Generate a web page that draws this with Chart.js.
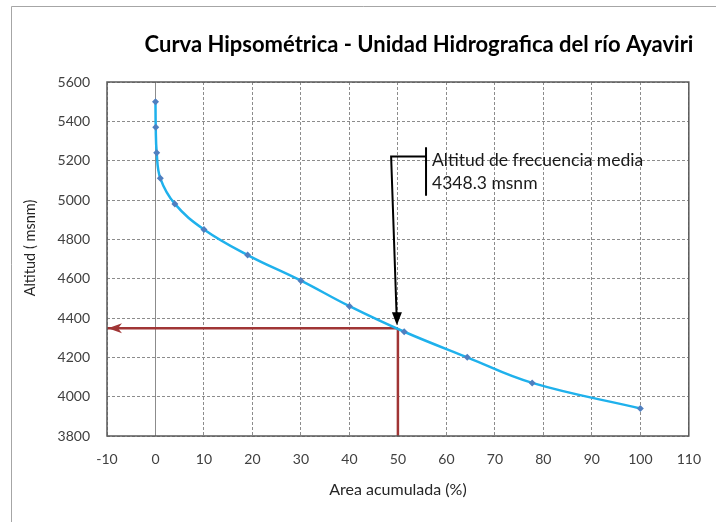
<!DOCTYPE html>
<html><head><meta charset="utf-8">
<script src="https://cdn.jsdelivr.net/npm/chart.js@4/dist/chart.umd.min.js"></script>
<style>html,body{margin:0;padding:0;background:#fff}#wrap{width:716px;height:522px}</style>
</head><body><div id="wrap"><canvas id="c" width="716" height="522"></canvas></div>
<script>
const chartTitle = 'Curva Hipsométrica - Unidad Hidrografica del río Ayaviri';
const xAxisTitle = 'Area acumulada (%)';
const yAxisTitle = 'Altitud ( msnm)';
const areaAcumulada = [0, 0.05, 0.25, 1.0, 4.0, 10.0, 19.0, 30.0, 40.0, 51.3, 64.3, 77.7, 100];
const altitud = [5500, 5370, 5240, 5110, 4980, 4850, 4720, 4590, 4460, 4330, 4200, 4070, 3940];
const xTickValues = [-10, 0, 10, 20, 30, 40, 50, 60, 70, 80, 90, 100, 110];
const yTickValues = [3800, 4000, 4200, 4400, 4600, 4800, 5000, 5200, 5400, 5600];
const areaMedia = 50;
const altitudMedia = 4348.3;
const calloutText = ['Altitud de frecuencia media', '4348.3 msnm'];

const curve = areaAcumulada.map((x, i) => ({x: x, y: altitud[i]}));
const xMin = xTickValues[0], xMax = xTickValues[xTickValues.length - 1];
const yMin = yTickValues[0], yMax = yTickValues[yTickValues.length - 1];
const RED = '#a03535';

const decor = {
  id: 'decor',
  beforeDraw(chart) {
    const ctx = chart.ctx;
    ctx.save();
    ctx.fillStyle = '#fff';
    ctx.fillRect(0, 0, chart.width, chart.height);
    ctx.strokeStyle = '#a6a6a6';
    ctx.lineWidth = 1;
    ctx.beginPath();
    ctx.moveTo(11.5, chart.height);
    ctx.lineTo(11.5, 6.5);
    ctx.lineTo(chart.width, 6.5);
    ctx.stroke();
    ctx.fillStyle = '#000';
    ctx.font = 'bold 22px Lato';
    ctx.textAlign = 'center';
    ctx.textBaseline = 'middle';
    ctx.fillText(chartTitle, 419, 45);
    // y axis title
    ctx.save();
    ctx.translate(30, 248);
    ctx.rotate(-Math.PI / 2);
    ctx.fillStyle = '#262626';
    ctx.font = '14.5px Lato';
    ctx.fillText(yAxisTitle, 0, 0);
    ctx.restore();
    ctx.restore();
  },
  beforeDatasetsDraw(chart) {
    const ctx = chart.ctx, x = chart.scales.x, a = chart.chartArea;
    const px = Math.round(x.getPixelForValue(0)) + 0.5;
    ctx.save();
    ctx.strokeStyle = '#8c8c8c';
    ctx.lineWidth = 1;
    ctx.beginPath();
    ctx.moveTo(px, a.top);
    ctx.lineTo(px, a.bottom);
    ctx.stroke();
    ctx.restore();
  },
  afterDatasetsDraw(chart) {
    const ctx = chart.ctx, xs = chart.scales.x, ys = chart.scales.y, a = chart.chartArea;
    ctx.save();
    ctx.strokeStyle = '#595959';
    ctx.lineWidth = 1.5;
    ctx.strokeRect(a.left, a.top, a.right - a.left, a.bottom - a.top);
    const ty = ys.getPixelForValue(altitudMedia);
    const tx = xs.getPixelForValue(xMin) + 1;
    ctx.fillStyle = RED;
    ctx.beginPath();
    ctx.moveTo(tx, ty);
    ctx.lineTo(tx + 14, ty - 5);
    ctx.lineTo(tx + 10, ty);
    ctx.lineTo(tx + 14, ty + 5);
    ctx.closePath();
    ctx.fill();
    const cx0 = xs.getPixelForValue(48.6), cy0 = ys.getPixelForValue(5221);
    const bx = xs.getPixelForValue(55.8);
    const by1 = ys.getPixelForValue(5268), by2 = ys.getPixelForValue(5022);
    const tipX = xs.getPixelForValue(areaMedia) - 1, tipY = ys.getPixelForValue(altitudMedia) - 3;
    ctx.strokeStyle = '#000';
    ctx.lineWidth = 2;
    ctx.beginPath();
    ctx.moveTo(bx, by1); ctx.lineTo(bx, by2);
    ctx.moveTo(bx, cy0); ctx.lineTo(cx0, cy0);
    ctx.lineTo(tipX - 0.3, tipY - 10);
    ctx.stroke();
    ctx.fillStyle = '#000';
    ctx.beginPath();
    ctx.moveTo(tipX, tipY);
    ctx.lineTo(tipX - 5, tipY - 13);
    ctx.lineTo(tipX + 5, tipY - 13);
    ctx.closePath();
    ctx.fill();
    ctx.font = '17.5px Lato';
    ctx.textAlign = 'left';
    ctx.textBaseline = 'middle';
    ctx.fillStyle = '#1a1a1a';
    ctx.fillText(calloutText[0], bx + 6, 160);
    ctx.fillText(calloutText[1], bx + 6, 183);
    ctx.restore();
  }
};

new Chart(document.getElementById('c'), {
  type: 'scatter',
  data: {
    datasets: [
      {
        data: [{x: areaMedia, y: altitudMedia}, {x: xMin, y: altitudMedia}],
        showLine: true, borderColor: RED, borderWidth: 2.5, pointRadius: 0, order: 3
      },
      {
        data: [{x: areaMedia, y: altitudMedia}, {x: areaMedia, y: yMin}],
        showLine: true, borderColor: RED, borderWidth: 2.5, pointRadius: 0, order: 3
      },
      {
        data: curve,
        showLine: true, borderColor: '#1fb1ec', borderWidth: 2.5, tension: 0.4,
        pointStyle: 'rectRot', pointRadius: 3.5, pointBackgroundColor: '#4f7fc0',
        pointBorderColor: '#4f7fc0', pointBorderWidth: 0, order: 1
      }
    ]
  },
  options: {
    responsive: false, animation: false, devicePixelRatio: 1,
    layout: {padding: {top: 82, right: 20, left: 0, bottom: 0}},
    plugins: {legend: {display: false}, tooltip: {enabled: false}, title: {display: false}},
    scales: {
      x: {
        type: 'linear', min: xMin, max: xMax,
        afterBuildTicks: s => { s.ticks = xTickValues.map(v => ({value: v})); },
        afterFit: s => { s.height = 86; },
        ticks: {padding: 15, color: '#404040', font: {family: 'Lato', size: 14}, callback: v => String(v), maxRotation: 0},
        grid: {color: '#8c8c8c', drawTicks: false, lineWidth: 1},
        border: {display: false, dash: [3, 2]},
        title: {display: true, text: xAxisTitle, color: '#262626', font: {family: 'Lato', size: 16}, padding: {top: 0, bottom: 23}}
      },
      y: {
        type: 'linear', min: yMin, max: yMax,
        afterBuildTicks: s => { s.ticks = yTickValues.map(v => ({value: v})); },
        afterFit: s => { s.width = 107; },
        ticks: {padding: 17, color: '#404040', font: {family: 'Lato', size: 14}, callback: v => String(v)},
        grid: {color: '#8c8c8c', drawTicks: false, lineWidth: 1},
        border: {display: false, dash: [3, 2]},
        title: {display: false}
      }
    }
  },
  plugins: [decor]
});
</script>
</body></html>
